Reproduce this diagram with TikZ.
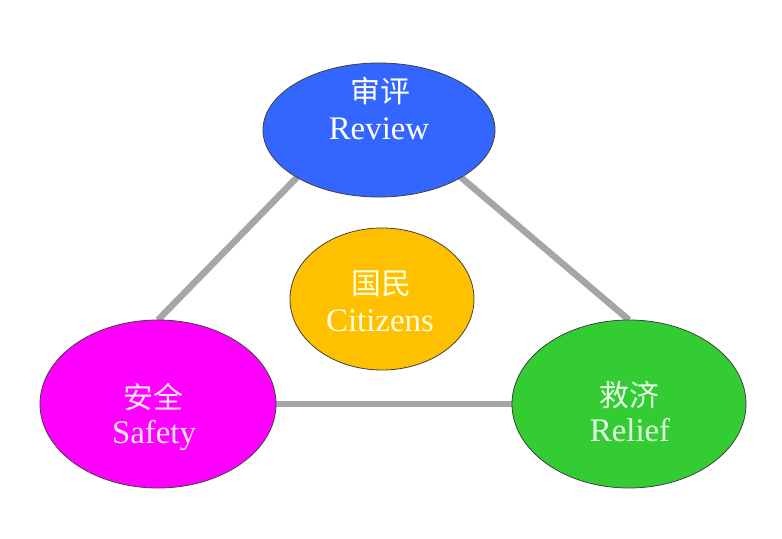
\documentclass[tikz,border=0pt]{standalone}
\usepackage{fontspec}
\setmainfont{Liberation Serif}
\newfontfamily\cjk{Noto Sans CJK SC}
\usetikzlibrary{shapes.geometric}
\pgfdeclarelayer{bg}
\pgfsetlayers{bg,main}
\definecolor{cblue}{HTML}{3366FF}
\definecolor{corange}{HTML}{FFC000}
\definecolor{cmagenta}{HTML}{FF00FF}
\definecolor{cgreen}{HTML}{33CC33}
\definecolor{cline}{HTML}{A6A6A6}
\definecolor{tcream}{HTML}{FFFFE0}
\definecolor{tpink}{HTML}{FFE8FF}
\definecolor{tmint}{HTML}{E8FFE8}
\tikzset{
  bubble/.style={ellipse, draw=black!75, line width=0.8bp, inner sep=0pt, outer sep=0pt},
  cntext/.style={anchor=base, inner sep=0pt, font=\cjk\fontsize{30}{36}\selectfont},
  entext/.style={anchor=base, inner sep=0pt, font=\fontsize{33}{38}\selectfont},
  link/.style={draw=cline, line width=6.5bp}
}
\begin{document}
\begin{tikzpicture}[x=1bp,y=-1bp]
\useasboundingbox (0,0) rectangle (782,539);
% bubbles
\node[bubble, fill=cblue, minimum width=232bp, minimum height=134bp] (review) at (379,130) {};
\node[bubble, fill=corange, minimum width=184bp, minimum height=142bp] (citizens) at (382,299) {};
\node[bubble, fill=cmagenta, minimum width=236bp, minimum height=168bp] (safety) at (158,404) {};
\node[bubble, fill=cgreen, minimum width=234bp, minimum height=168bp] (relief) at (629,404) {};
% connectors
\begin{pgfonlayer}{bg}
\fill[white] (0,0) rectangle (782,539);
\draw[link] (review.south west) -- (safety.north);
\draw[link] (review.south east) -- (relief.north);
\draw[link] (safety.east) -- (relief.west);
\end{pgfonlayer}
% texts
\node[cntext, text=white] (reviewcn) at (380,103) {审评};
\node[entext, text=white] (reviewen) at (379,140) {Review};
\node[cntext, text=tcream] (citizenscn) at (381,295) {国民};
\node[entext, text=tcream] (citizensen) at (380,331) {Citizens};
\node[cntext, text=tpink] (safetycn) at (153,408) {安全};
\node[entext, text=tpink] (safetyen) at (154,443) {Safety};
\node[cntext, text=tmint] (reliefcn) at (629,406) {救济};
\node[entext, text=tmint] (reliefen) at (630,441) {Relief};
\end{tikzpicture}
\end{document}
